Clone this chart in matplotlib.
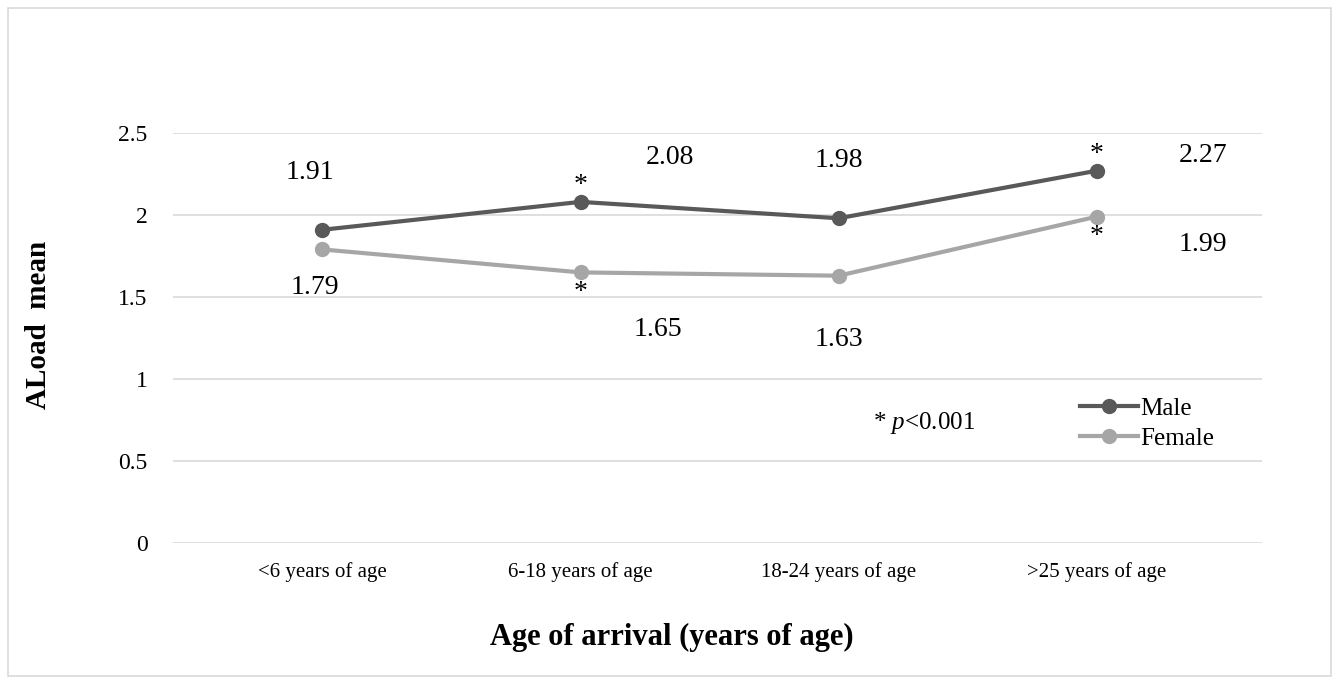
import numpy as np
import matplotlib.pyplot as plt
from matplotlib.patches import Rectangle

# Data
categories = ['<6 years of age', '6-18 years of age', '18-24 years of age', '>25 years of age']
male = [1.91, 2.08, 1.98, 2.27]
female = [1.79, 1.65, 1.63, 1.99]
male_sig = [False, True, False, True]
female_sig = [False, True, False, True]

plt.rcParams['font.family'] = ['Liberation Serif', 'DejaVu Serif']
plt.rcParams['mathtext.fontset'] = 'custom'
plt.rcParams['mathtext.rm'] = 'Liberation Serif'
plt.rcParams['mathtext.it'] = 'Liberation Serif:italic'

fig = plt.figure(figsize=(13.39, 6.84), dpi=100)
fig.patches.append(Rectangle((8 / 1339, 8 / 684), 1323 / 1339, 668 / 684,
                             transform=fig.transFigure, fill=False,
                             edgecolor='#d9d9d9', linewidth=1.2))
ax = fig.add_axes([0.129, 0.206, 0.8135, 0.5996])

x = np.arange(len(categories))
ax.plot(x, male, color='#595959', lw=3, marker='o', ms=10, label='Male', zorder=3)
ax.plot(x, female, color='#a6a6a6', lw=3, marker='o', ms=10, label='Female', zorder=3)

ax.set_xlim(-0.58, 3.64)
ax.set_ylim(0, 2.5)
ax.set_yticks([0, 0.5, 1, 1.5, 2, 2.5])
ax.set_yticklabels(['0', '0.5', '1', '1.5', '2', '2.5'], fontsize=17)
ax.set_xticks(x)
ax.set_xticklabels(categories, fontsize=15)
ax.tick_params(length=0)
ax.tick_params(axis='x', pad=14)
ax.tick_params(axis='y', pad=18)
ax.grid(axis='y', color='#d9d9d9', lw=1.2)
ax.set_axisbelow(True)
for s in ax.spines.values():
    s.set_visible(False)

# value labels
male_lab_pos = [(-0.05, 2.26), (1.345, 2.35), (2.0, 2.335), (3.41, 2.36)]
female_lab_pos = [(-0.03, 1.56), (1.30, 1.30), (2.0, 1.24), (3.41, 1.82)]
for (px, py), v in zip(male_lab_pos, male):
    ax.text(px, py, f'{v:.2f}', fontsize=20, ha='center', va='center')
for (px, py), v in zip(female_lab_pos, female):
    ax.text(px, py, f'{v:.2f}', fontsize=20, ha='center', va='center')

# significance stars
for i in range(len(categories)):
    if male_sig[i]:
        ax.text(x[i], male[i] + 0.1, '*', fontsize=20, ha='center', va='center')
    if female_sig[i]:
        ax.text(x[i], female[i] - 0.12, '*', fontsize=20, ha='center', va='center')

ax.text(2.33, 0.73, r'* $\it{p}$<0.001', fontsize=18, ha='center', va='center')

ax.set_ylabel('ALoad  mean', fontsize=21, fontweight='bold')
ax.yaxis.set_label_coords(-0.111, 0.532)
ax.set_xlabel('Age of arrival (years of age)', fontsize=22, fontweight='bold')
ax.xaxis.set_label_coords(0.458, -0.195)

ax.legend(loc='upper left', bbox_to_anchor=(0.833, 0.355), frameon=False,
          fontsize=18, handlelength=2.3, handletextpad=0.1, labelspacing=0.3,
          borderaxespad=0, borderpad=0)

fig.savefig('out.png', dpi=100)
